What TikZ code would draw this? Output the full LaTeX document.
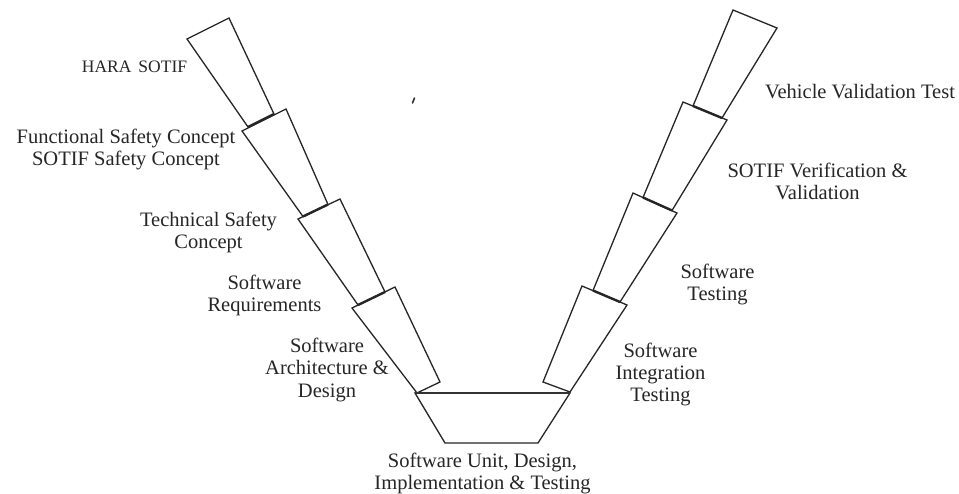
\documentclass[tikz,border=0pt]{standalone}
\usepackage{fontspec}
\setmainfont{Liberation Serif}
\begin{document}
\begin{tikzpicture}[x=1pt,y=-1pt,
  trap/.style={draw=black!85, line width=1.3pt, line join=miter},
  joint/.style={draw=black!85, line width=2.4pt},
  base/.style={draw=black!80, line width=2pt},
  lbl/.style={font=\fontsize{20.5}{22}\selectfont, align=center, inner sep=0pt, anchor=base, text=black!85},
  smalllbl/.style={font=\fontsize{17.5}{20}\selectfont, align=center, inner sep=0pt, anchor=base, text=black!85}]
\useasboundingbox[fill=white] (0,0) rectangle (959,494);

% left branch
\draw[trap] (187,39) -- (229,18) -- (274,114) -- (248,127) -- cycle;
\draw[trap] (242,131) -- (286,109) -- (328,204.5) -- (303,216.5) -- cycle;
\draw[trap] (298,219) -- (340,199) -- (385,292) -- (358,305) -- cycle;
\draw[trap] (352,308) -- (395,287) -- (440,382) -- (417,393) -- cycle;
\draw[joint] (248,127) -- (274,114);
\draw[joint] (303,216.5) -- (328,204.5);
\draw[joint] (358,305) -- (385,292);

% right branch
\draw[trap] (733,10) -- (777,28) -- (722,118) -- (693,106) -- cycle;
\draw[trap] (683,102) -- (727,120) -- (672,210.5) -- (643,197.5) -- cycle;
\draw[trap] (633,193) -- (677,213) -- (620,302) -- (593,290.5) -- cycle;
\draw[trap] (582,286) -- (627,305) -- (570,392) -- (543,382) -- cycle;
\draw[joint] (693,106) -- (722,118);
\draw[joint] (643,197.5) -- (672,210.5);
\draw[joint] (593,290.5) -- (620,302);

% bottom
\draw[trap] (415,393) -- (570,393) -- (538,443) -- (445,443) -- cycle;
\draw[base] (415,393) -- (570,393);

% stray mark
\draw[black!80, line width=1.6pt, line cap=round] (412.5,103) -- (414.5,98);

% labels (anchor = baseline of last line)
\node[smalllbl] (hara) at (134.5,73) {HARA\hspace{2.6pt} SOTIF};
\node[lbl] (fsc) at (126,166) {Functional Safety Concept\\SOTIF Safety Concept};
\node[lbl] (tsc) at (208.5,249) {Technical Safety\\Concept};
\node[lbl] (swr) at (264.5,312) {Software\\Requirements};
\node[lbl] (swa) at (327,397) {Software\\Architecture \&\\Design};
\node[lbl] (swu) at (482.5,489) {Software Unit, Design,\\Implementation \& Testing};
\node[lbl] (swi) at (660.5,402) {Software\\Integration\\Testing};
\node[lbl] (swt) at (717.5,301) {Software\\Testing};
\node[lbl] (svv) at (817.5,200) {SOTIF Verification \&\\Validation};
\node[lbl] (vvt) at (860,99) {Vehicle Validation Test};
\end{tikzpicture}
\end{document}
